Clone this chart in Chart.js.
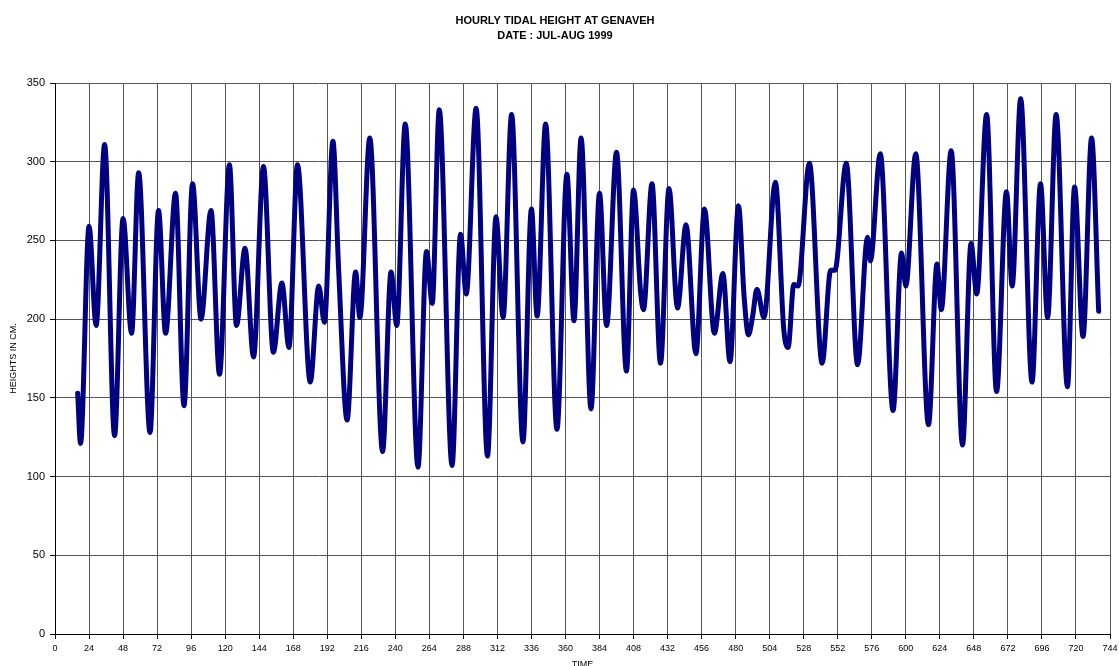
<!DOCTYPE html>
<html>
<head>
<meta charset="utf-8">
<script src="https://cdn.jsdelivr.net/npm/chart.js@4.4.0/dist/chart.umd.min.js"></script>
<style>
  body { margin: 0; background: #fff; }
  #wrap { width: 1119px; height: 666px; }
</style>
</head>
<body>
<div id="wrap"><canvas id="myChart"></canvas></div>
<script>
// highs and lows (hour, height in cm)
const hours = [
  16, 18, 24, 29, 35, 42, 48, 54, 59, 67, 73, 78, 85, 91, 97,
  103, 110, 116, 123, 128, 134, 140, 147, 154, 160, 165, 171, 180, 186, 190,
  196, 200, 206, 212, 215, 222, 231, 237, 241, 247, 256, 262, 266, 271, 280,
  286, 290, 297, 305, 311, 316, 322, 330, 336, 340, 346, 354, 361, 366, 371,
  378, 384, 389, 396, 403, 408, 413, 415, 421, 427, 433, 439, 445, 452, 458,
  465, 471, 476, 482, 486, 489, 492, 495, 500, 508, 514, 517, 521, 524, 532,
  541, 547, 550, 558, 566, 573, 575, 582, 591, 597, 600, 607, 616, 622, 625,
  632, 640, 646, 650, 657, 664, 671, 675, 681, 689, 695, 700, 706, 714, 719,
  725, 731, 736
];
const heights = [
  153, 121, 259, 196, 311, 126, 264, 191, 293, 128, 269, 191, 280, 145, 286,
  200, 269, 165, 298, 196, 245, 176, 297, 179, 223, 182, 298, 160, 221, 198,
  313, 232, 136, 230, 201, 315, 116, 230, 196, 324, 106, 243, 210, 333, 107,
  254, 216, 334, 113, 265, 201, 330, 122, 270, 202, 324, 130, 292, 199, 315,
  143, 280, 196, 306, 167, 282, 217, 206, 286, 172, 283, 207, 260, 178, 270,
  191, 229, 173, 272, 214, 190, 202, 219, 201, 287, 193, 182, 222, 221, 299,
  172, 231, 231, 299, 171, 252, 237, 305, 142, 242, 221, 305, 133, 235, 206,
  307, 120, 248, 216, 330, 154, 281, 221, 340, 160, 286, 201, 330, 157, 284,
  189, 315, 205
];
const xTicks = { min: 0, max: 744, step: 24 };
const yTicks = { min: 0, max: 350, step: 50 };

const font = "'Liberation Sans', Arial, sans-serif";
const ctx = document.getElementById("myChart");

new Chart(ctx, {
  type: "line",
  data: {
    datasets: [
      {
        label: "Height",
        data: hours.map((h, i) => ({ x: h, y: heights[i] })),
        borderColor: "#000080",
        borderWidth: 5,
        pointRadius: 0,
        cubicInterpolationMode: "monotone",
        tension: 0.4,
        borderCapStyle: "round",
        borderJoinStyle: "round",
        fill: false,
      },
    ],
  },
  options: {
    responsive: true,
    maintainAspectRatio: false,
    animation: false,
    layout: { padding: { left: 0, right: 9, top: 0, bottom: 0 } },
    plugins: {
      legend: { display: false },
      tooltip: { enabled: false },
      title: {
        display: true,
        text: ["HOURLY TIDAL HEIGHT AT GENAVEH", "DATE : JUL-AUG 1999"],
        color: "#000",
        font: { family: font, size: 11, weight: "bold", lineHeight: "15px" },
        padding: { top: 13, bottom: 40 },
      },
    },
    scales: {
      x: {
        type: "linear",
        min: xTicks.min,
        max: xTicks.max,
        afterFit: (s) => {
          s.height = 32;
          s.paddingLeft = 0;
          s.paddingRight = 0;
        },
        ticks: {
          stepSize: xTicks.step,
          autoSkip: false,
          maxRotation: 0,
          padding: 4,
          color: "#000",
          font: { family: font, size: 9 },
        },
        grid: { color: "#555", lineWidth: 1, tickLength: 5, tickColor: "#000" },
        border: { color: "#000", width: 1 },
        title: {
          display: true,
          text: "TIME",
          color: "#000",
          font: { family: font, size: 9, lineHeight: 1 },
          padding: { top: 0, bottom: -3.5 },
        },
      },
      y: {
        min: yTicks.min,
        max: yTicks.max,
        afterFit: (s) => { s.width = 55; },
        ticks: {
          stepSize: yTicks.step,
          padding: 5,
          color: "#000",
          font: { family: font, size: 11 },
        },
        grid: { color: "#555", lineWidth: 1, tickLength: 5, tickColor: "#000" },
        border: { color: "#000", width: 1 },
        title: {
          display: true,
          text: "HEIGHTS IN CM.",
          color: "#000",
          font: { family: font, size: 9 },
          padding: { top: 8, bottom: 0 },
        },
      },
    },
  },
});
</script>
</body>
</html>
